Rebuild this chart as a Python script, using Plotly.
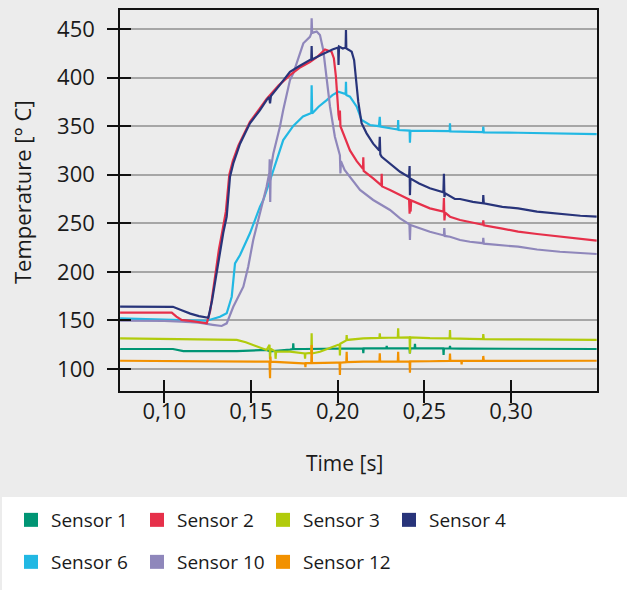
import plotly.graph_objects as go

# ---------------- data ----------------
s1_x = [0.0745, 0.105, 0.111, 0.1418, 0.159, 0.1610, 0.1725, 0.1742, 0.1744, 0.1746, 0.1802, 0.2003,
        0.2146, 0.2148, 0.2150, 0.2281, 0.2283, 0.2285, 0.2415, 0.2417, 0.2419, 0.2444, 0.2446, 0.2448,
        0.2609, 0.2611, 0.2613, 0.2646, 0.2648, 0.2650, 0.2706, 0.3041, 0.3494]
s1_y = [120.6, 120.6, 118.5, 118.5, 119.6, 118.2, 120.0, 120.5, 126.4, 120.5, 120.6, 121.0,
        121.3, 116.2, 121.3, 121.3, 123.7, 121.3, 121.3, 116.1, 121.3, 121.3, 126.0, 121.2,
        121.2, 114.4, 121.2, 121.1, 123.7, 121.1, 121.0, 120.8, 120.6]

s2_x = [0.0745, 0.090, 0.1043, 0.107, 0.110, 0.115, 0.120, 0.1245, 0.1265, 0.1295, 0.1315, 0.1335,
        0.1355, 0.1375, 0.1395, 0.1427, 0.1494, 0.155, 0.159, 0.166, 0.1725, 0.178, 0.184, 0.188,
        0.1927, 0.1965, 0.1978, 0.1990, 0.1998, 0.2005, 0.2010, 0.2013, 0.2016, 0.2032, 0.2052,
        0.2071, 0.2110, 0.2146, 0.2148, 0.2150, 0.2205, 0.2252, 0.2254, 0.2256, 0.2302, 0.2360,
        0.2412, 0.2415, 0.2418, 0.2421, 0.2424, 0.2532, 0.2610, 0.2613, 0.2616, 0.2620, 0.2648,
        0.2706, 0.2763, 0.2838, 0.2840, 0.2843, 0.2950, 0.3041, 0.3150, 0.3282, 0.3400, 0.3494]
s2_y = [158.0, 158.0, 158.0, 154.0, 150.5, 149.5, 148.5, 147.0, 160.0, 198.0, 223.0, 242.0,
        262.0, 300.0, 314.0, 330.0, 354.5, 368.0, 378.0, 392.0, 402.6, 410.0, 416.0, 421.0,
        429.0, 426.6, 420.0, 401.0, 373.5, 362.0, 356.0, 366.0, 350.0, 342.6, 333.0,
        325.0, 314.0, 306.0, 318.0, 304.0, 296.3, 289.0, 301.0, 288.0, 284.3, 279.0,
        274.5, 260.0, 274.0, 262.0, 273.5, 265.4, 262.0, 276.0, 253.0, 261.0, 256.8,
        253.4, 251.6, 248.5, 253.0, 248.0, 244.5, 241.5, 239.0, 236.2, 234.0, 232.1]

s3_x = [0.0745, 0.100, 0.120, 0.1418, 0.1470, 0.1513, 0.1590, 0.1607, 0.1610, 0.1613, 0.1640, 0.1642,
        0.1645, 0.1725, 0.1810, 0.1812, 0.1814, 0.1848, 0.1850, 0.1852, 0.1898, 0.1994, 0.2011, 0.2013,
        0.2015, 0.2050, 0.2052, 0.2054, 0.2148, 0.2241, 0.2243, 0.2245, 0.2347, 0.2349, 0.2351, 0.2415,
        0.2417, 0.2419, 0.2532, 0.2646, 0.2648, 0.2650, 0.2763, 0.2838, 0.2840, 0.2843, 0.3041, 0.3282,
        0.3494]
s3_y = [131.6, 131.0, 130.5, 129.9, 127.5, 124.7, 119.6, 125.0, 110.0, 121.0, 118.0, 110.5,
        118.0, 117.8, 116.0, 110.5, 116.0, 116.5, 136.7, 116.0, 117.8, 124.7, 125.5, 114.0,
        126.0, 129.5, 135.0, 129.9, 131.6, 132.0, 136.7, 132.0, 132.4, 141.9, 132.4, 132.6,
        116.1, 132.6, 131.8, 131.5, 140.0, 131.5, 131.0, 130.8, 136.0, 130.8, 130.5, 130.2,
        129.9]

s4_x = [0.0745, 0.090, 0.105, 0.110, 0.115, 0.120, 0.1254, 0.1275, 0.1302, 0.1321, 0.1340, 0.1360,
        0.1379, 0.1398, 0.1427, 0.1437, 0.1494, 0.155, 0.159, 0.1605, 0.1610, 0.1615, 0.166, 0.1725,
        0.178, 0.1840, 0.1848, 0.1850, 0.1852, 0.1900, 0.1937, 0.1970, 0.2003, 0.2005, 0.2008, 0.2030,
        0.2046, 0.2048, 0.2050, 0.2065, 0.2081, 0.2095, 0.2106, 0.2119, 0.2138, 0.2148, 0.2167, 0.2205,
        0.2240, 0.2243, 0.2246, 0.2254, 0.2302, 0.2360, 0.2412, 0.2415, 0.2417, 0.2420, 0.2470, 0.2532,
        0.2610, 0.2613, 0.2616, 0.2620, 0.2676, 0.2706, 0.2780, 0.2838, 0.2840, 0.2843, 0.2950, 0.3041,
        0.3150, 0.3282, 0.3400, 0.3494]
s4_y = [164.2, 164.0, 164.0, 160.5, 157.0, 154.5, 152.8, 170.0, 198.5, 222.5, 240.0, 256.8,
        297.9, 311.7, 328.0, 332.0, 352.9, 366.0, 376.9, 380.0, 373.5, 381.0, 391.0, 406.0,
        412.0, 418.0, 419.0, 432.5, 418.7, 423.0, 426.6, 429.0, 431.0, 413.0, 432.0, 430.0,
        431.0, 449.0, 430.0, 428.5, 426.6, 418.0, 401.0, 375.0, 353.0, 349.4, 342.6, 332.0,
        325.0, 339.0, 321.0, 318.5, 311.7, 303.0, 297.5, 309.0, 279.0, 296.0, 291.0, 286.0,
        282.0, 301.0, 277.0, 281.0, 275.0, 275.0, 272.0, 270.6, 279.0, 270.5, 267.0, 265.4,
        262.0, 259.6, 257.8, 256.8]

s6_x = [0.0745, 0.090, 0.1043, 0.115, 0.1245, 0.1321, 0.1360, 0.1389, 0.1408, 0.1437, 0.1494, 0.1552,
        0.1571, 0.1606, 0.1629, 0.1686, 0.1744, 0.1800, 0.1848, 0.1850, 0.1853, 0.1890, 0.1937, 0.1970,
        0.2003, 0.2030, 0.2046, 0.2048, 0.2050, 0.2071, 0.2090, 0.2110, 0.2138, 0.2186, 0.2238, 0.2243,
        0.2246, 0.2300, 0.2347, 0.2349, 0.2351, 0.2415, 0.2417, 0.2420, 0.2532, 0.2646, 0.2648, 0.2650,
        0.2706, 0.2838, 0.2840, 0.2843, 0.3041, 0.3282, 0.3494]
s6_y = [152.2, 151.5, 150.4, 150.0, 149.7, 153.8, 157.3, 174.4, 208.8, 217.4, 239.7, 267.1,
        273.9, 292.0, 304.8, 335.7, 350.3, 360.0, 363.5, 392.0, 363.0, 370.0, 376.9, 382.0,
        385.5, 384.0, 383.0, 395.7, 382.0, 380.3, 375.0, 370.0, 356.3, 351.2, 350.0, 359.7,
        349.5, 348.0, 346.5, 356.3, 346.0, 345.5, 333.0, 345.5, 345.0, 344.8, 352.9, 344.6,
        344.3, 343.8, 349.5, 343.7, 343.2, 342.5, 341.9]

s10_x = [0.0745, 0.090, 0.100, 0.110, 0.120, 0.1280, 0.1331, 0.1360, 0.1398, 0.1456, 0.1484, 0.1513,
         0.1533, 0.1565, 0.1590, 0.1606, 0.1608, 0.1611, 0.1614, 0.1629, 0.1667, 0.1686, 0.1725, 0.1744,
         0.1782, 0.1802, 0.1840, 0.1848, 0.1850, 0.1853, 0.1879, 0.1898, 0.1917, 0.1937, 0.1956, 0.1984,
         0.2013, 0.2016, 0.2019, 0.2040, 0.2071, 0.2129, 0.2205, 0.2302, 0.2360, 0.2414, 0.2417, 0.2420,
         0.2532, 0.2613, 0.2615, 0.2618, 0.2648, 0.2706, 0.2763, 0.2838, 0.2840, 0.2843, 0.3041, 0.3150,
         0.3282, 0.3400, 0.3494]
s10_y = [149.7, 149.7, 149.5, 148.8, 147.7, 145.5, 144.3, 147.0, 164.1, 184.7, 205.3, 232.8,
         246.5, 270.0, 287.7, 302.0, 316.0, 272.0, 306.0, 322.0, 349.4, 366.6, 397.5, 404.4,
         425.0, 435.3, 442.0, 445.6, 461.0, 446.0, 447.4, 443.8, 428.4, 400.9, 370.0, 339.1,
         320.0, 301.4, 314.0, 305.0, 298.0, 284.3, 274.0, 263.7, 255.0, 249.0, 232.8, 248.2,
         241.3, 237.5, 245.0, 237.0, 236.2, 232.8, 231.0, 229.5, 235.0, 229.0, 225.9, 223.0,
         220.7, 219.3, 218.4]

s12_x = [0.0745, 0.110, 0.140, 0.158, 0.1607, 0.1610, 0.1612, 0.1614, 0.1802, 0.1812, 0.1814, 0.1816,
         0.1848, 0.1850, 0.1852, 0.1994, 0.2011, 0.2013, 0.2015, 0.2050, 0.2052, 0.2054, 0.2148, 0.2241,
         0.2243, 0.2245, 0.2347, 0.2349, 0.2351, 0.2415, 0.2417, 0.2419, 0.2532, 0.2646, 0.2648, 0.2650,
         0.2713, 0.2715, 0.2717, 0.2838, 0.2840, 0.2843, 0.3041, 0.3494]
s12_y = [108.5, 108.3, 108.0, 107.5, 107.5, 90.4, 112.7, 107.5, 105.8, 106.0, 102.0, 106.0,
         106.0, 124.7, 106.0, 106.5, 106.5, 93.8, 106.5, 107.0, 117.8, 107.0, 107.5, 107.5,
         116.1, 107.5, 107.6, 117.8, 107.6, 107.8, 96.2, 107.8, 108.0, 108.3, 116.0, 108.3,
         108.3, 104.8, 108.3, 108.4, 113.4, 108.4, 108.5, 108.5]

names = ["Sensor 1", "Sensor 2", "Sensor 3", "Sensor 4", "Sensor 6", "Sensor 10", "Sensor 12"]
colors = ["#009574", "#e6304a", "#b1cb0c", "#28347a", "#22b8e3", "#8f87bb", "#f29100"]
series = [(s1_x, s1_y), (s2_x, s2_y), (s3_x, s3_y), (s4_x, s4_y),
          (s6_x, s6_y), (s10_x, s10_y), (s12_x, s12_y)]

x_ticks = [0.10, 0.15, 0.20, 0.25, 0.30]
y_ticks = [100, 150, 200, 250, 300, 350, 400, 450]
x_range = [0.07445, 0.3496]
y_range = [77.35, 469.6]

FONT = "Open Sans, Noto Sans, sans-serif"
TXT = "#1a1a1a"
BG = "#ececec"

fig = go.Figure()

# draw order: lower sensors first, navy on top
draw_order = [0, 2, 6, 4, 5, 1, 3]
for i in draw_order:
    xs, ys = series[i]
    fig.add_trace(go.Scatter(x=xs, y=ys, mode="lines", name=names[i],
                             line=dict(color=colors[i], width=2.2),
                             showlegend=False, hoverinfo="skip"))

# legend entries (square swatches)
for i, nm in enumerate(names):
    fig.add_trace(go.Scatter(x=[None], y=[None], mode="markers", name=nm,
                             marker=dict(symbol="square", size=14, color=colors[i]),
                             legend="legend" if i < 4 else "legend2",
                             legendwidth=100 if i == 6 else None))

# overlay axes for the other half of the crossing tick marks
fig.add_trace(go.Scatter(x=[None], y=[None], xaxis="x2", yaxis="y2", showlegend=False))

W, H = 627, 590
ml, mr, mt, mb = 120, 30, 10, 199
pw, ph = W - ml - mr, H - mt - mb


def px_x(p):
    return (p - ml) / pw


def px_y(p):
    return (H - mb - p) / ph


axis_common = dict(showline=True, linecolor="#111111", linewidth=1.5,
                   ticklen=11, tickwidth=1.5, tickcolor="#111111",
                   tickfont=dict(family=FONT, size=22, color=TXT), zeroline=False,
                   automargin=False)

fig.update_layout(
    width=W, height=H,
    margin=dict(l=ml, r=mr, t=mt, b=mb, autoexpand=False),
    paper_bgcolor=BG, plot_bgcolor=BG,
    separators=",.",
    font=dict(family=FONT, size=20, color=TXT),
    xaxis=dict(range=x_range, tickvals=x_ticks, tickformat=".2f", ticks="inside",
               showgrid=False, mirror=True, ticklabelstandoff=0, **axis_common),
    yaxis=dict(range=y_range, tickvals=y_ticks, ticks="outside", showgrid=True,
               gridcolor="#a6a6a6", gridwidth=1.5, mirror=True, ticklabelstandoff=8,
               **axis_common),
    xaxis2=dict(range=x_range, tickvals=x_ticks, ticks="outside", overlaying="x", anchor="y2",
                showticklabels=False, showgrid=False, showline=False, zeroline=False,
                ticklen=11, tickwidth=1.5, tickcolor="#111111"),
    yaxis2=dict(range=y_range, tickvals=y_ticks, ticks="inside", overlaying="y", anchor="x2",
                showticklabels=False, showgrid=False, showline=False, zeroline=False,
                ticklen=11, tickwidth=1.5, tickcolor="#111111"),
    legend=dict(orientation="h", x=px_x(11), xanchor="left", y=px_y(501), yanchor="top",
                bgcolor="rgba(0,0,0,0)", entrywidth=81, entrywidthmode="pixels",
                font=dict(family=FONT, size=19, color=TXT), itemclick=False),
    legend2=dict(orientation="h", x=px_x(11), xanchor="left", y=px_y(543), yanchor="top",
                 bgcolor="rgba(0,0,0,0)", entrywidth=81, entrywidthmode="pixels",
                 font=dict(family=FONT, size=19, color=TXT), itemclick=False),
    shapes=[dict(type="rect", xref="paper", yref="paper", layer="below",
                 x0=px_x(2), x1=px_x(640), y0=px_y(497), y1=px_y(600),
                 fillcolor="white", line=dict(width=0))],
    annotations=[
        dict(text="Time [s]", xref="paper", yref="paper", x=px_x(344), y=px_y(463),
             showarrow=False, font=dict(family=FONT, size=21, color=TXT),
             xanchor="center", yanchor="middle"),
        dict(text="Temperature [° C]", xref="paper", yref="paper", x=px_x(22), y=px_y(192),
             showarrow=False, textangle=-90, font=dict(family=FONT, size=22, color=TXT),
             xanchor="center", yanchor="middle"),
    ],
)

fig.write_html("out.html", config={"displayModeBar": False},
               post_script="document.body.style.margin='0';document.body.style.overflow='hidden';")
